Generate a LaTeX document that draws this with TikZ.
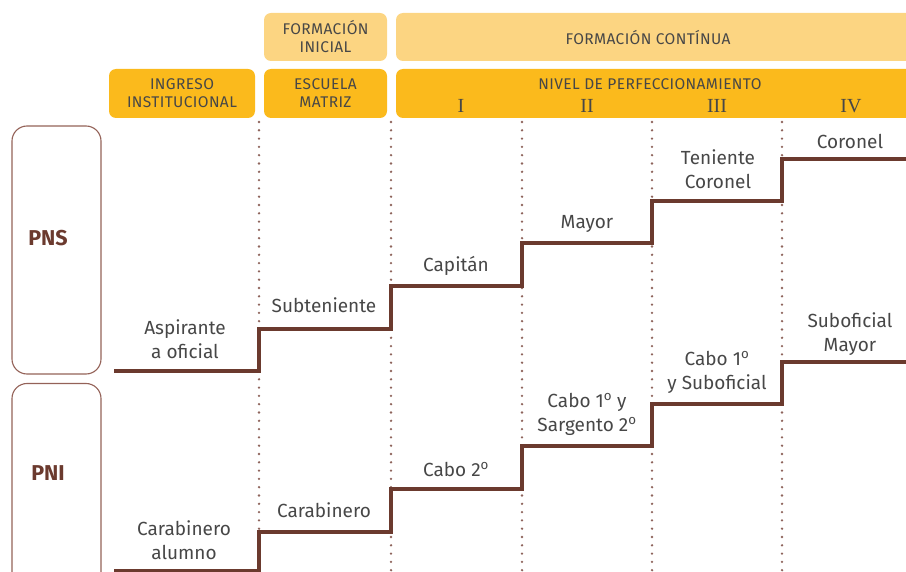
\documentclass[tikz,border=0pt]{standalone}
\usepackage{fontspec}
\setmainfont{Fira Sans}
\newfontfamily\capsfont[LetterSpace=2.5]{Fira Sans}
\newfontfamily\numfont{Liberation Serif}
\definecolor{cafe}{HTML}{6B3A2E}
\definecolor{borde}{HTML}{946258}
\definecolor{amarillo}{HTML}{FBBA1C}
\definecolor{crema}{HTML}{FCD582}
\definecolor{texto}{HTML}{474747}
\definecolor{punto}{HTML}{8E645C}
\newcommand{\ord}{\textsuperscript{o}}
\begin{document}
\begin{tikzpicture}[x=1pt,y=-1pt]
        \tikzstyle{claro}=[fill=crema, rounded corners=7pt, inner sep=0pt,
            text=texto, align=center, font=\capsfont\fontsize{15.5}{18}\selectfont]
        \tikzstyle{oscuro}=[claro, fill=amarillo]
        \tikzstyle{cabeza}=[text=texto, font=\capsfont\fontsize{15.5}{18}\selectfont]
        \tikzstyle{romano}=[text=texto, font=\numfont\fontsize{20}{20}\selectfont]
        \tikzstyle{grado}=[text=texto, align=center, inner sep=0pt,
            font=\fontsize{19}{24}\selectfont]
        \tikzstyle{planta}=[draw=borde, rounded corners=15pt, line width=1.1pt,
            minimum width=89pt]
        \tikzstyle{sigla}=[text=cafe, font=\bfseries\fontsize{21.5}{24}\selectfont]
        \tikzstyle{escalera}=[draw=cafe, line width=4pt]
        \tikzstyle{division}=[draw=punto, line width=2.6pt, line cap=round,
            dash pattern=on 0pt off 8.3pt]
        \useasboundingbox (0,0) rectangle (906,572);

        % encabezado
        \node[claro, minimum width=123pt, minimum height=48pt] (inicial) at (325.5,37) {FORMACIÓN\\INICIAL};
        \node[claro, minimum width=535pt, minimum height=48pt] (continua) at (663.5,37) {};
        \node[cabeza] (tcontinua) at (648,38) {FORMACIÓN CONTÍNUA};
        \node[oscuro, minimum width=146pt, minimum height=49pt] (ingreso) at (182,93.5) {INGRESO\\INSTITUCIONAL};
        \node[oscuro, minimum width=123pt, minimum height=49pt] (escuela) at (325.5,93.5) {ESCUELA\\MATRIZ};
        \node[oscuro, minimum width=535pt, minimum height=49pt] (nivel) at (663.5,93.5) {};
        \node[cabeza] (tnivel) at (650,84) {NIVEL DE PERFECCIONAMIENTO};
        \node[romano] (n1) at (461,106) {I};
        \node[romano] (n2) at (587,106) {II};
        \node[romano] (n3) at (717,106) {III};
        \node[romano] (n4) at (851,106) {IV};

        % divisiones
        \foreach \x [count=\i] in {259,391,522,652,782} {
            \coordinate (d\i a) at (\x,122);
            \coordinate (d\i b) at (\x,572);
            \draw[division] (d\i a) -- (d\i b);
        }

        % plantas
        \node[planta, minimum height=248pt] (pns) at (56.5,250) {};
        \node[sigla] (tpns) at (48,238) {PNS};
        \node[planta, minimum height=215pt] (pni) at (56.5,491) {};
        \node[sigla] (tpni) at (48,473) {PNI};

        % escalera PNS
        \coordinate (a0) at (114,371);
        \coordinate (a1) at (259,371);
        \coordinate (a2) at (259,329);
        \coordinate (a3) at (391,329);
        \coordinate (a4) at (391,286);
        \coordinate (a5) at (522,286);
        \coordinate (a6) at (522,243);
        \coordinate (a7) at (652,243);
        \coordinate (a8) at (652,201);
        \coordinate (a9) at (782,201);
        \coordinate (a10) at (782,159);
        \coordinate (a11) at (912,159);
        \draw[escalera] (a0) -- (a1) -- (a2) -- (a3) -- (a4) -- (a5) -- (a6)
            -- (a7) -- (a8) -- (a9) -- (a10) -- (a11);

        % escalera PNI
        \coordinate (b0) at (114,571);
        \coordinate (b1) at (259,571);
        \coordinate (b2) at (259,532);
        \coordinate (b3) at (391,532);
        \coordinate (b4) at (391,489);
        \coordinate (b5) at (522,489);
        \coordinate (b6) at (522,446);
        \coordinate (b7) at (652,446);
        \coordinate (b8) at (652,404);
        \coordinate (b9) at (782,404);
        \coordinate (b10) at (782,362);
        \coordinate (b11) at (912,362);
        \draw[escalera] (b0) -- (b1) -- (b2) -- (b3) -- (b4) -- (b5) -- (b6)
            -- (b7) -- (b8) -- (b9) -- (b10) -- (b11);

        % grados PNS
        \node[grado] (aspirante) at (185,339) {Aspirante\\a oficial};
        \node[grado] (subteniente) at (324,305) {Subteniente};
        \node[grado] (capitan) at (456,266) {Capitán};
        \node[grado] (mayor) at (587,224) {Mayor};
        \node[grado] (teniente) at (718,169) {Teniente\\Coronel};
        \node[grado] (coronel) at (850,141) {Coronel};

        % grados PNI
        \node[grado] (alumno) at (184,540) {Carabinero\\alumno};
        \node[grado] (carabinero) at (324,510) {Carabinero};
        \node[grado] (cabo2) at (456,469) {Cabo 2\ord};
        \node[grado] (sargento) at (587,414) {Cabo 1\ord{} y\\Sargento 2\ord};
        \node[grado] (cabo1) at (717,372) {Cabo 1\ord\\y Suboficial};
        \node[grado] (suboficial) at (850,334) {Suboficial\\Mayor};

    \end{tikzpicture}
\end{document}
